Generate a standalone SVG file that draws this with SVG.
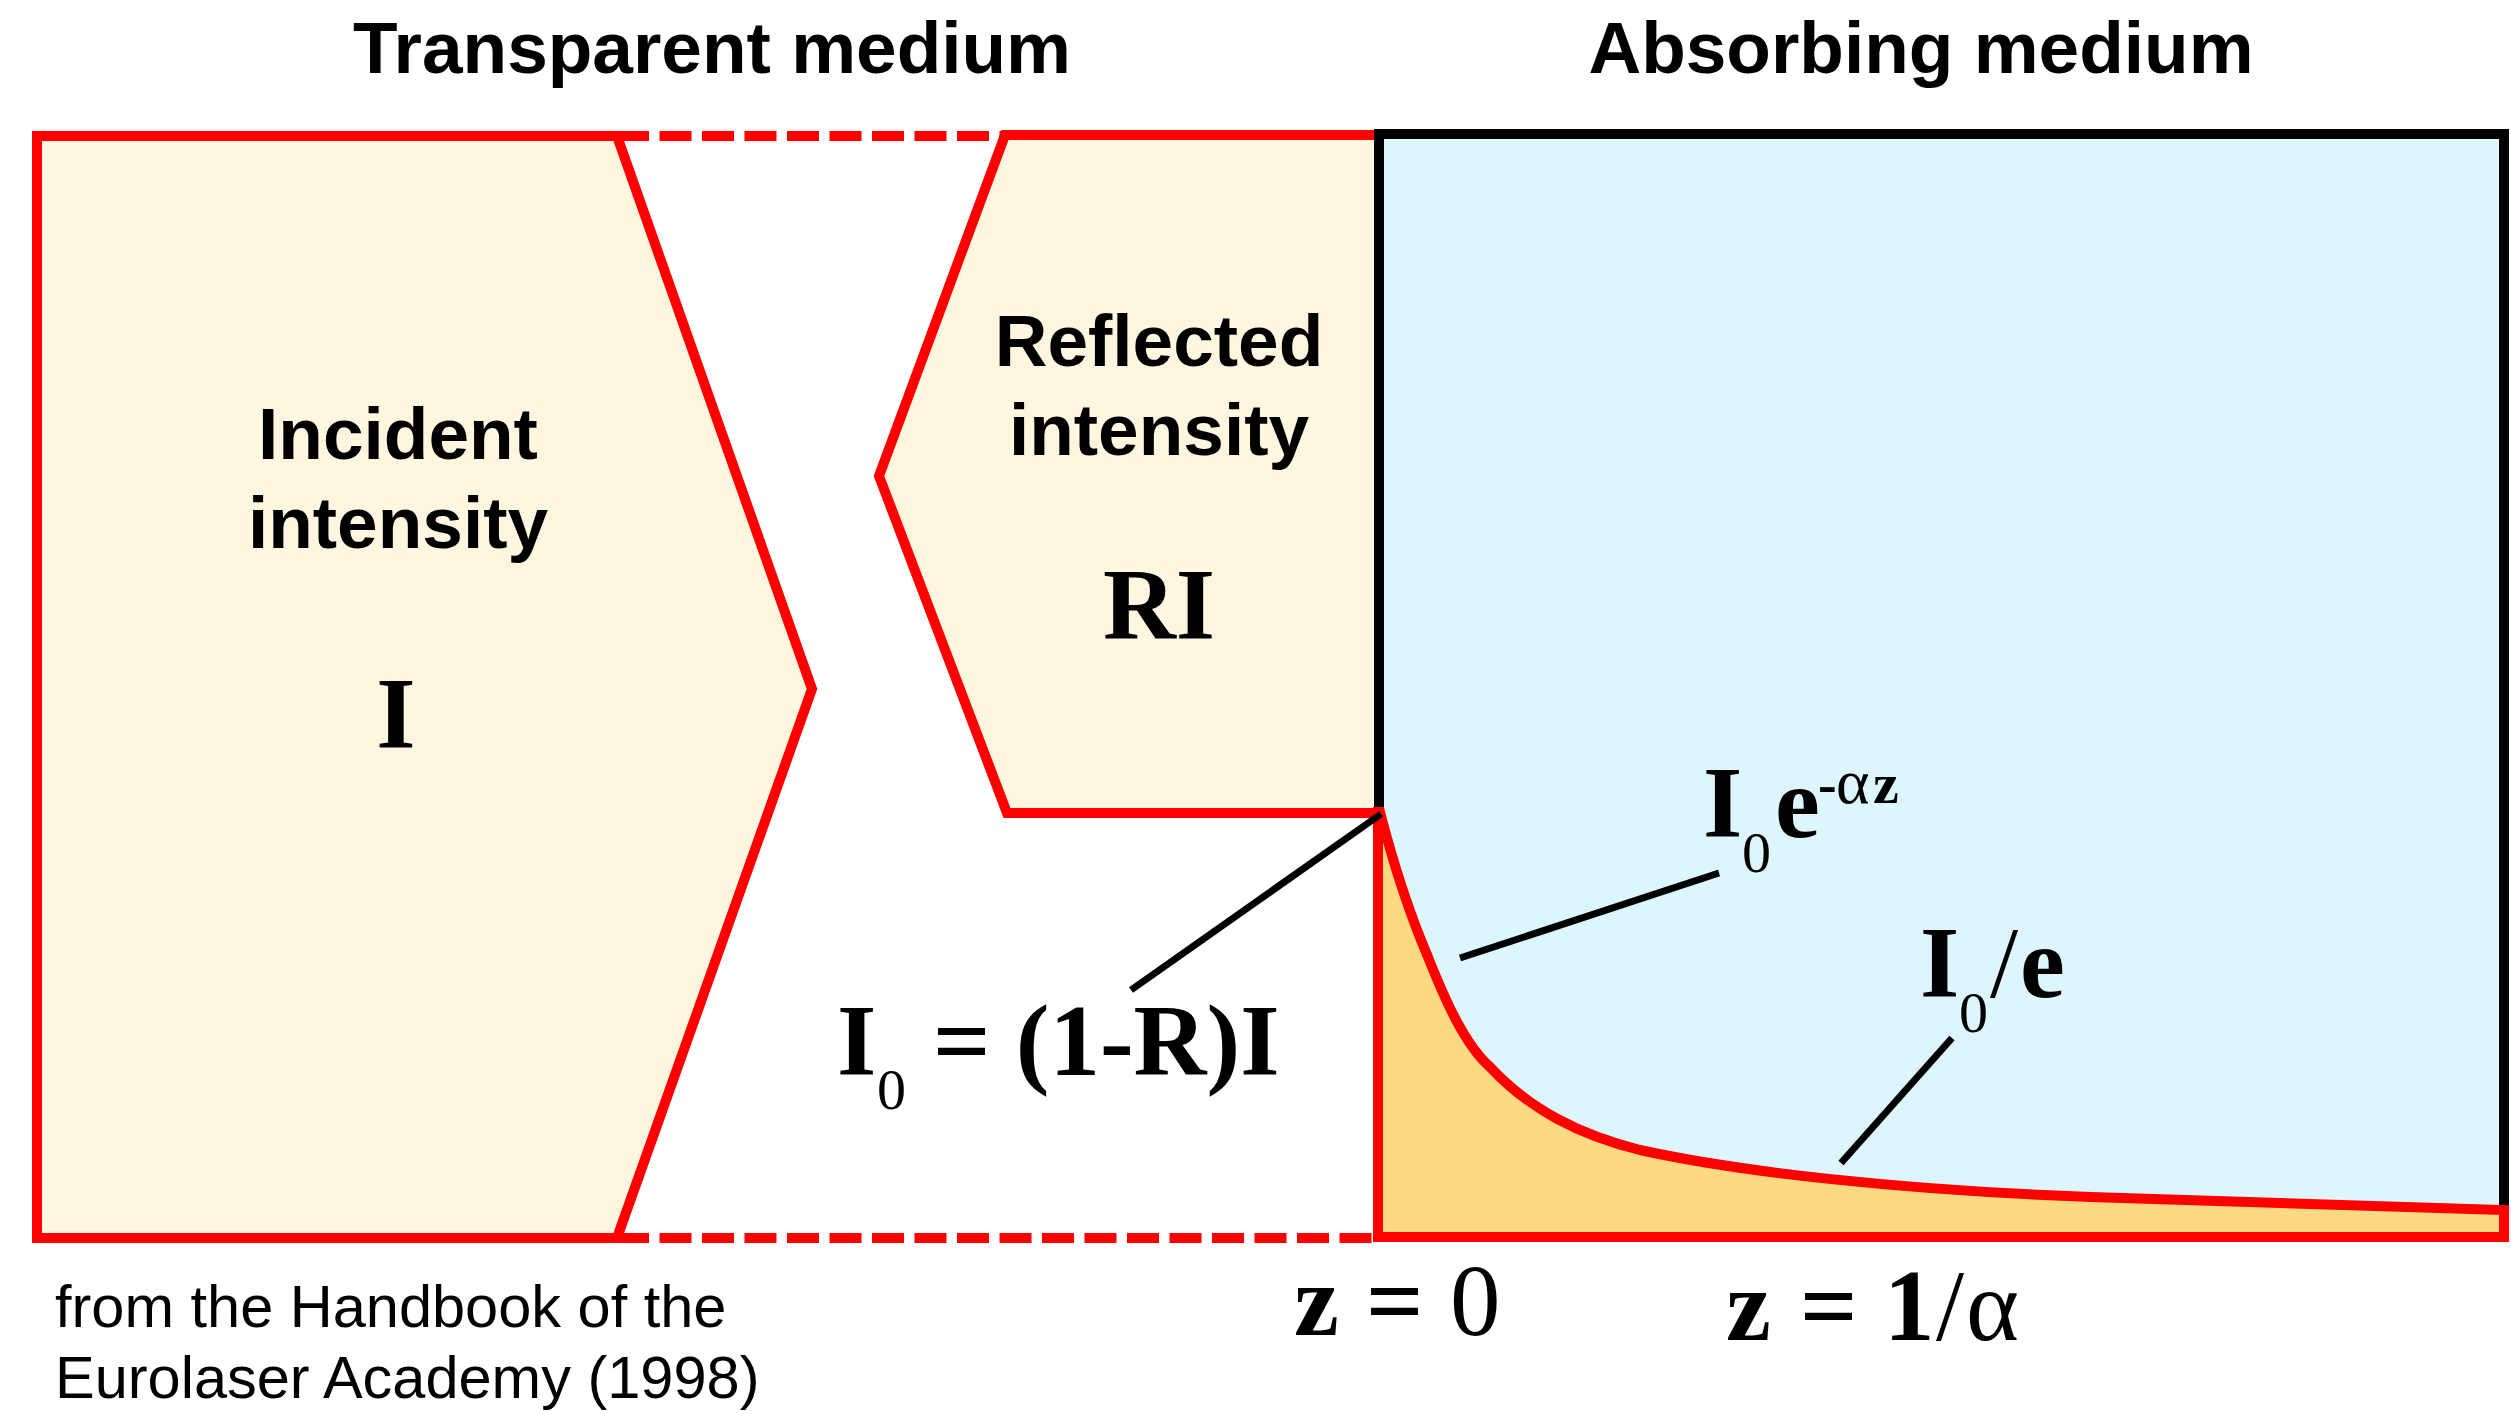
<svg xmlns="http://www.w3.org/2000/svg" width="2511" height="1414" viewBox="0 0 2511 1414">
<style>
.red{stroke:#FF0000;stroke-width:10;stroke-linejoin:miter;}
.cream{fill:#FEF6DF;}
.dash{fill:none;stroke:#FF0000;stroke-width:10;stroke-dasharray:32 10.5;}
.lead{fill:none;stroke:#000;stroke-width:7;}
.hb{font-family:"Liberation Sans",Arial,sans-serif;font-weight:bold;font-size:73px;fill:#000;text-anchor:middle;}
.tb{font-family:"Liberation Serif","Times New Roman",serif;font-weight:bold;font-size:101px;fill:#000;}
.sub{font-family:"Liberation Serif","Times New Roman",serif;font-weight:normal;font-size:58px;}
.foot{font-family:"Liberation Sans",Arial,sans-serif;font-size:59.5px;fill:#000;}
</style>
<rect width="2511" height="1414" fill="#FFFFFF"/>
<g id="connectors">
  <line class="dash" x1="617" y1="136" x2="1005" y2="136"/>
  <line class="dash" x1="617" y1="1238" x2="1378" y2="1238"/>
</g>
<g id="incident">
  <polygon class="red cream" points="37,136 617,136 812,689 617,1238 37,1238"/>
  <text class="hb" x="398" y="459">Incident</text>
  <text class="hb" x="398" y="548">intensity</text>
  <text class="tb" x="396" y="748" text-anchor="middle" font-size="102">I</text>
</g>
<g id="reflected">
  <polygon class="red cream" points="1005,135 879,476 1007,813 1379,813 1379,135"/>
  <text class="hb" x="1159" y="366">Reflected</text>
  <text class="hb" x="1159" y="455">intensity</text>
  <text class="tb" x="1159" y="639" text-anchor="middle" font-size="100">RI</text>
</g>
<g id="absorbing">
  <rect x="1379" y="134" width="1125" height="1103" fill="#DDF6FD" stroke="#000" stroke-width="10"/>
</g>
<g id="profile">
  <path class="red" fill="#FDDA82" d="M1380,812 C1395,870 1410,915 1428,957 C1445,1000 1465,1045 1490,1067 C1530,1110 1580,1135 1640,1150 C1740,1172 1900,1190 2091,1197 C2250,1203 2400,1208 2504,1210 L2504,1237 L1378,1237 L1378,812 Z"/>
</g>
<g id="leaders">
  <line class="lead" x1="1381" y1="814" x2="1131" y2="990"/>
  <line class="lead" x1="1460" y1="958" x2="1719" y2="873"/>
  <line class="lead" x1="1841" y1="1163" x2="1952" y2="1038"/>
</g>
<g id="titles">
  <text class="hb" x="712" y="73" font-size="74">Transparent medium</text>
  <text class="hb" x="1921" y="73" font-size="74">Absorbing medium</text>
</g>
<g id="label-I0">
  <text class="tb" y="1075"><tspan x="837">I</tspan><tspan class="sub" x="877" y="1109">0</tspan><tspan x="933" y="1075">= (1-R)I</tspan></text>
</g>
<g id="label-exp">
  <text class="tb" y="837" font-size="102"><tspan x="1703">I</tspan><tspan class="sub" x="1742" y="872">0</tspan><tspan x="1775" y="837">e</tspan><tspan x="1818" y="803" font-size="56">-</tspan><tspan x="1836" y="803" font-size="64" font-weight="normal">α</tspan><tspan x="1873" y="803" font-size="58">z</tspan></text>
</g>
<g id="label-I0e">
  <text class="tb" y="997" font-size="102"><tspan x="1920">I</tspan><tspan class="sub" x="1959" y="1032">0</tspan><tspan x="1990" y="997" font-weight="normal">/</tspan><tspan x="2020" y="997">e</tspan></text>
</g>
<g id="label-z0">
  <text class="tb" y="1335" font-size="100"><tspan x="1294">z</tspan><tspan x="1366">=</tspan><tspan x="1450" font-weight="normal">0</tspan></text>
</g>
<g id="label-z1">
  <text class="tb" y="1340" font-size="100"><tspan x="1726">z</tspan><tspan x="1800">=</tspan><tspan x="1884">1</tspan><tspan x="1936" font-weight="normal">/</tspan><tspan x="1966" font-weight="normal">α</tspan></text>
</g>
<g id="source">
  <text class="foot" x="55" y="1327">from the Handbook of the</text>
  <text class="foot" x="55" y="1398">Eurolaser Academy (1998)</text>
</g>
</svg>
